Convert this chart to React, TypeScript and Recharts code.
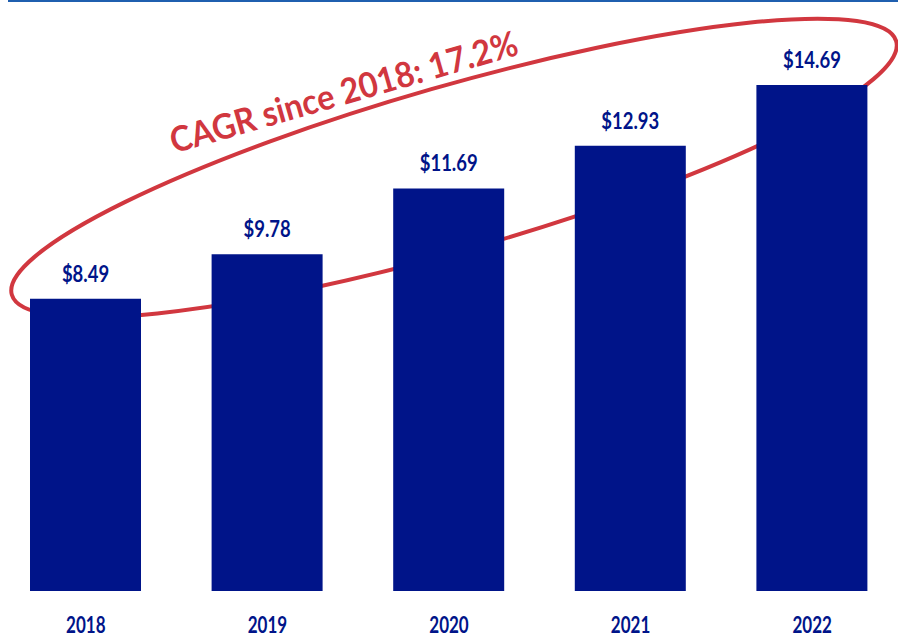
import { BarChart, Bar, XAxis, YAxis, LabelList, Customized } from "recharts";

const years = ["2018", "2019", "2020", "2021", "2022"];
const values = [8.49, 9.78, 11.69, 12.93, 14.69];
const cagrLabel = "CAGR since 2018: 17.2%";

const NAVY = "#001489";
const RED = "#D1373F";
const FONT = "Lato, 'Liberation Sans', sans-serif";
const SHIFT = 5; // svg sits 5px left of the page edge

const data = years.map((year, i) => ({ year, value: values[i] }));

function YearTick(props: any) {
  const { x, y, payload } = props;
  return (
    <text
      transform={`translate(${x},${y + 42}) scale(0.74,1)`}
      textAnchor="middle"
      fill={NAVY}
      fontSize={23}
      fontWeight={700}
      fontFamily={FONT}
    >
      {payload.value}
    </text>
  );
}

function ValueLabel(props: any) {
  const { x, y, width, value } = props;
  return (
    <text
      transform={`translate(${x + width / 2},${y - 17}) scale(0.84,1)`}
      textAnchor="middle"
      fill={NAVY}
      fontSize={22}
      fontWeight={700}
      fontFamily={FONT}
    >
      {`$${Number(value).toFixed(2)}`}
    </text>
  );
}

function CagrBubble() {
  return (
    <g>
      <ellipse
        cx={454 + SHIFT}
        cy={168}
        rx={460}
        ry={82}
        fill="none"
        stroke={RED}
        strokeWidth={4}
        transform={`rotate(-16 ${454 + SHIFT} 168)`}
      />
      <text
        x={347 + SHIFT}
        y={104}
        textAnchor="middle"
        fill={RED}
        fontSize={35}
        fontWeight={700}
        fontFamily={FONT}
        textLength={360}
        lengthAdjust="spacingAndGlyphs"
        transform={`rotate(-16 ${347 + SHIFT} 104)`}
      >
        {cagrLabel}
      </text>
    </g>
  );
}

export default function App() {
  return (
    <div
      style={{
        position: "absolute",
        left: 0,
        top: 0,
        width: 898,
        height: 635,
        overflow: "hidden",
        background: "#fff",
      }}
    >
      <div
        style={{
          position: "absolute",
          left: 8,
          top: 0,
          width: 890,
          height: 2,
          background: "#1F5FAF",
        }}
      />
      <div style={{ position: "absolute", left: -SHIFT, top: 0 }}>
        <BarChart
          width={908}
          height={635}
          data={data}
          margin={{ top: 40, right: 0, bottom: 0, left: 0 }}
        >
          <XAxis
            dataKey="year"
            axisLine={false}
            tickLine={false}
            tickSize={0}
            tickMargin={0}
            height={44}
            interval={0}
            tick={<YearTick />}
          />
          <YAxis hide domain={[0, 16]} />
          <Bar dataKey="value" fill={NAVY} barSize={111} isAnimationActive={false}>
            <LabelList dataKey="value" content={<ValueLabel />} />
          </Bar>
          <Customized component={CagrBubble} />
        </BarChart>
      </div>
    </div>
  );
}
